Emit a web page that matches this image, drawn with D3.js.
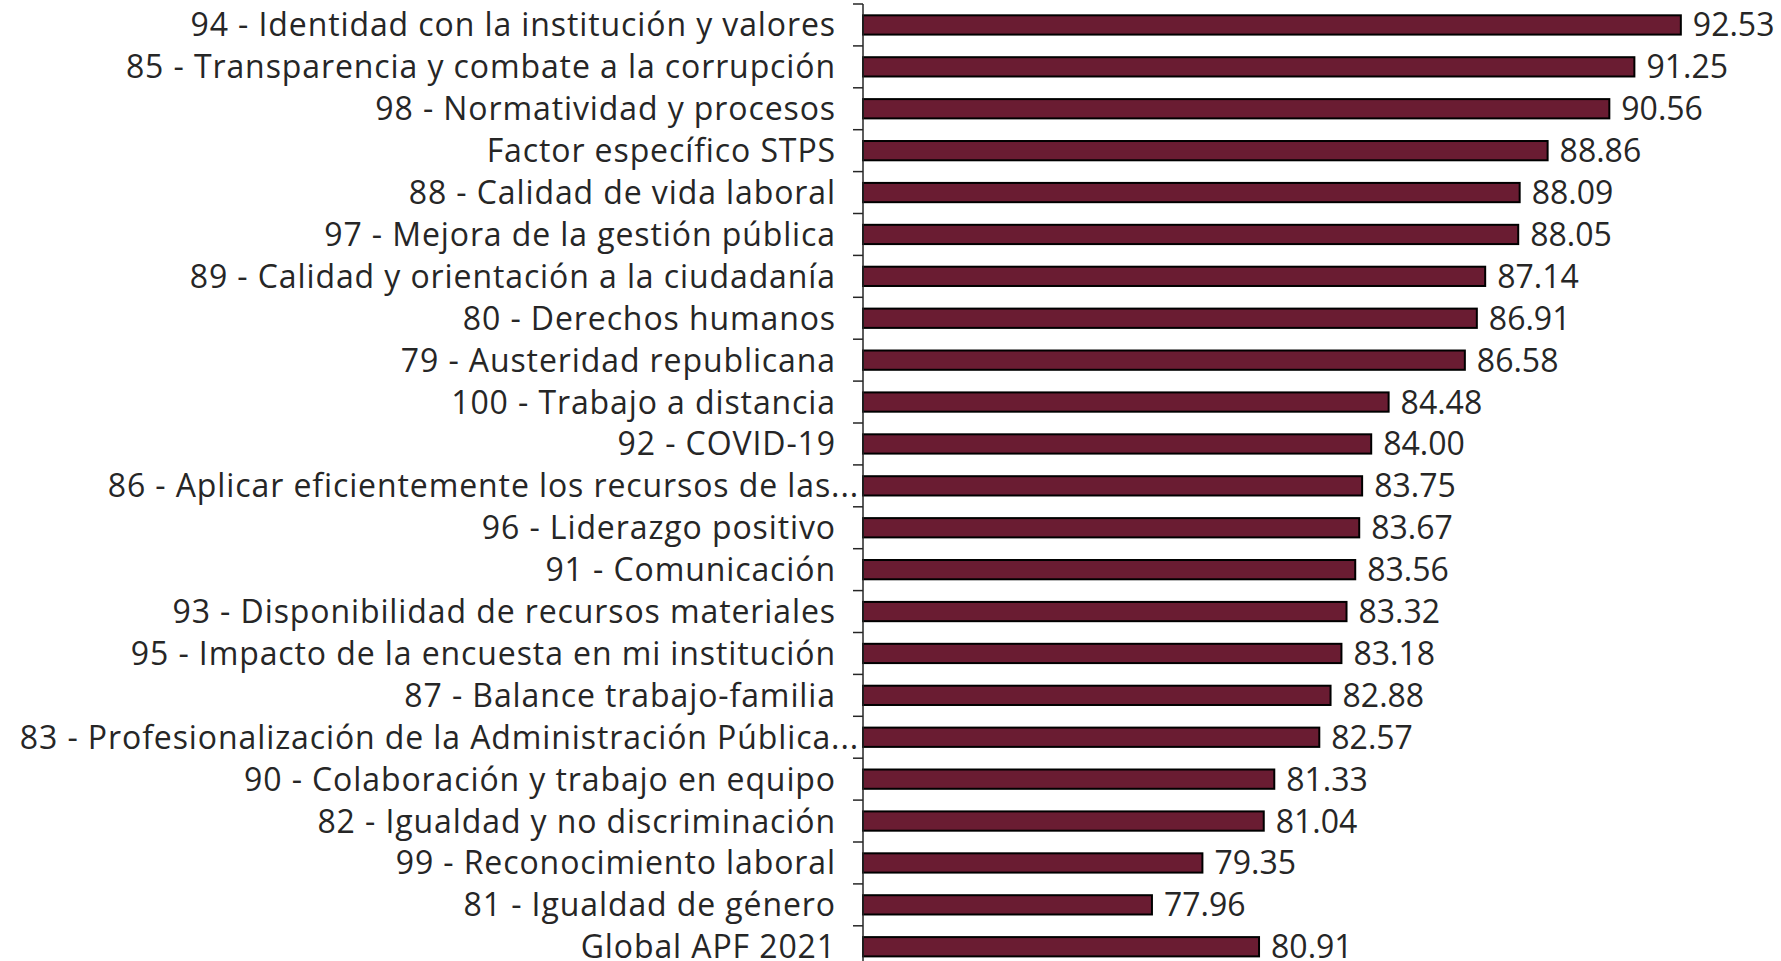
<!DOCTYPE html>
<html>
<head>
<meta charset="utf-8">
<script src="https://cdn.jsdelivr.net/npm/d3@7"></script>
<style>
  body { margin: 0; background: #fff; }
  text { font-family: "Open Sans", sans-serif; fill: #262626; }
</style>
</head>
<body>
<script>
const categories = [
    "94 - Identidad con la institución y valores",
    "85 - Transparencia y combate a la corrupción",
    "98 - Normatividad y procesos",
    "Factor específico STPS",
    "88 - Calidad de vida laboral",
    "97 - Mejora de la gestión pública",
    "89 - Calidad y orientación a la ciudadanía",
    "80 - Derechos humanos",
    "79 - Austeridad republicana",
    "100 - Trabajo a distancia",
    "92 - COVID-19",
    "86 - Aplicar eficientemente los recursos de las...",
    "96 - Liderazgo positivo",
    "91 - Comunicación",
    "93 - Disponibilidad de recursos materiales",
    "95 - Impacto de la encuesta en mi institución",
    "87 - Balance trabajo-familia",
    "83 - Profesionalización de la Administración Pública...",
    "90 - Colaboración y trabajo en equipo",
    "82 - Igualdad y no discriminación",
    "99 - Reconocimiento laboral",
    "81 - Igualdad de género",
    "Global APF 2021"
];
const values = [92.53, 91.25, 90.56, 88.86, 88.09, 88.05, 87.14, 86.91, 86.58, 84.48, 84.00,
    83.75, 83.67, 83.56, 83.32, 83.18, 82.88, 82.57, 81.33, 81.04, 79.35, 77.96, 80.91];

const width = 1781, height = 961;
const axisX = 863;

const data = categories.map((c, i) => ({name: c, value: values[i]}));

const svg = d3.select("body").append("svg")
    .attr("width", width)
    .attr("height", height);

const x = d3.scaleLinear()
    .domain([70, 95])
    .range([axisX, axisX + 25 * 36.3]);

const y = d3.scaleBand()
    .domain(categories)
    .range([4, 4 + categories.length * 41.9])
    .paddingInner(0.54)
    .paddingOuter(0.27);

// bars
svg.selectAll(".bar")
    .data(data)
    .enter()
    .append("rect")
    .attr("class", "bar")
    .attr("x", x(70))
    .attr("y", d => y(d.name))
    .attr("width", d => x(d.value) - x(70))
    .attr("height", y.bandwidth())
    .attr("fill", "#6a1c32")
    .attr("stroke", "#000")
    .attr("stroke-width", 2);

// axis line + ticks between categories
const step = y.step();
svg.append("line")
    .attr("x1", axisX).attr("x2", axisX)
    .attr("y1", y.range()[0]).attr("y2", y.range()[1])
    .attr("stroke", "#262626")
    .attr("stroke-width", 1.5);

svg.selectAll(".tick")
    .data(d3.range(categories.length + 1))
    .enter()
    .append("line")
    .attr("x1", axisX - 10).attr("x2", axisX)
    .attr("y1", i => y.range()[0] + i * step)
    .attr("y2", i => y.range()[0] + i * step)
    .attr("stroke", "#262626")
    .attr("stroke-width", 1.5);

// category labels
svg.selectAll(".cat")
    .data(data)
    .enter()
    .append("text")
    .attr("x", d => d.name.endsWith("...") ? axisX - 4 : axisX - 27)
    .attr("y", d => y(d.name) + y.bandwidth() / 2)
    .attr("dy", "0.36em")
    .attr("text-anchor", "end")
    .style("font-size", "32px")
    .style("letter-spacing", "0.9px")
    .text(d => d.name);

// value labels
svg.selectAll(".val")
    .data(data)
    .enter()
    .append("text")
    .attr("x", d => x(d.value) + 12)
    .attr("y", d => y(d.name) + y.bandwidth() / 2)
    .attr("dy", "0.36em")
    .style("font-size", "32px")
    .text(d => d3.format(".2f")(d.value));
</script>
</body>
</html>
